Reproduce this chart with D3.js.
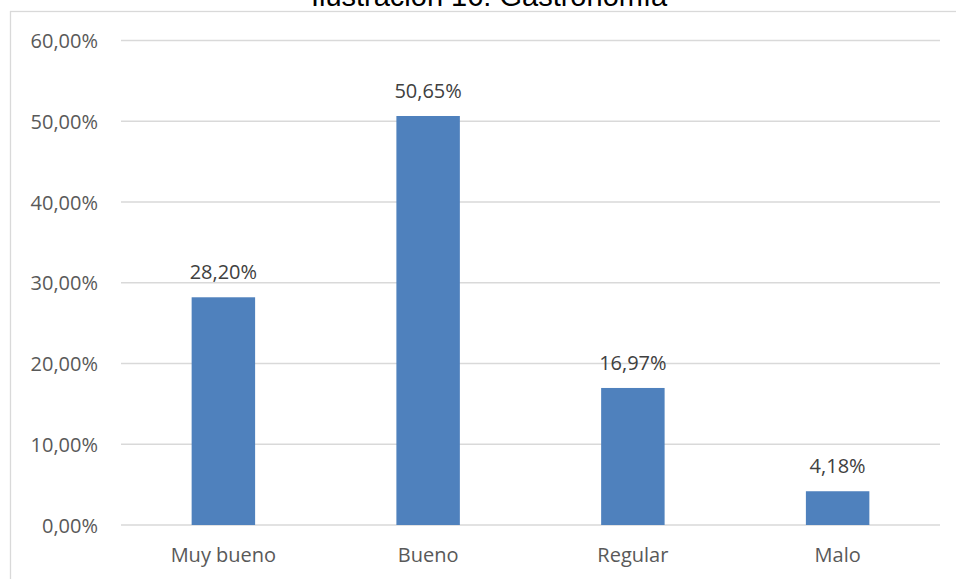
<!DOCTYPE html>
<html>
<head>
<meta charset="utf-8">
<script src="https://cdn.jsdelivr.net/npm/d3@7"></script>
<style>
html, body { margin: 0; padding: 0; background: #fff; }
svg { display: block; }
</style>
</head>
<body>
<svg id="chart" width="956" height="579"></svg>
<script>
const title = "Ilustración 16: Gastronomía";
const categories = ["Muy bueno", "Bueno", "Regular", "Malo"];
const values = [28.20, 50.65, 16.97, 4.18];
const yTicks = [0, 10, 20, 30, 40, 50, 60];

const fmt = v => v.toFixed(2).replace(".", ",") + "%";

const svg = d3.select("#chart");
const W = 956, H = 579;
const margin = { left: 121, right: 16, top: 40.5, bottom: 54 };

// chart border
svg.append("rect")
  .attr("x", 10.5).attr("y", 11.5)
  .attr("width", W + 20).attr("height", H + 20)
  .attr("fill", "none").attr("stroke", "#d9d9d9").attr("stroke-width", 1.3);

// title (partially clipped at top, as in the reference)
svg.append("text")
  .attr("x", 489).attr("y", 5.5)
  .attr("text-anchor", "middle")
  .attr("font-family", "Liberation Sans, Arial, sans-serif")
  .attr("font-size", 29)
  .attr("fill", "#000")
  .text(title);

const x = d3.scaleBand()
  .domain(categories)
  .range([margin.left, 940])
  .paddingInner(0.69)
  .paddingOuter(0.345);

const y = d3.scaleLinear()
  .domain([0, 60])
  .range([525, 40.5]);

// gridlines
svg.append("g")
  .selectAll("line")
  .data(yTicks)
  .join("line")
  .attr("x1", margin.left).attr("x2", 940)
  .attr("y1", d => y(d)).attr("y2", d => y(d))
  .attr("stroke", "#d9d9d9").attr("stroke-width", 1.3);

// y axis labels
const yAxis = d3.axisLeft(y).tickValues(yTicks).tickFormat(fmt).tickSize(0).tickPadding(0);
const gy = svg.append("g").attr("transform", "translate(98,0)").call(yAxis);
gy.select(".domain").remove();
gy.selectAll("text")
  .attr("font-family", "Open Sans, sans-serif")
  .attr("font-size", 20)
  .attr("fill", "#595959")
  .attr("dy", null)
  .attr("y", 7);

// bars
svg.append("g")
  .selectAll("rect")
  .data(categories)
  .join("rect")
  .attr("x", (d) => x(d))
  .attr("width", x.bandwidth())
  .attr("y", (d, i) => y(values[i]))
  .attr("height", (d, i) => y(0) - y(values[i]))
  .attr("fill", "#4f81bd");

// data labels
svg.append("g")
  .selectAll("text")
  .data(categories)
  .join("text")
  .attr("x", d => x(d) + x.bandwidth() / 2)
  .attr("y", (d, i) => y(values[i]) - 18)
  .attr("text-anchor", "middle")
  .attr("font-family", "Open Sans, sans-serif")
  .attr("font-size", 20)
  .attr("fill", "#404040")
  .text((d, i) => fmt(values[i]));

// x axis labels
const xAxis = d3.axisBottom(x).tickSize(0).tickPadding(0);
const gx = svg.append("g").call(xAxis);
gx.select(".domain").remove();
gx.selectAll("text")
  .attr("font-family", "Open Sans, sans-serif")
  .attr("font-size", 20)
  .attr("fill", "#595959")
  .attr("dy", null)
  .attr("y", 562);
</script>
</body>
</html>
